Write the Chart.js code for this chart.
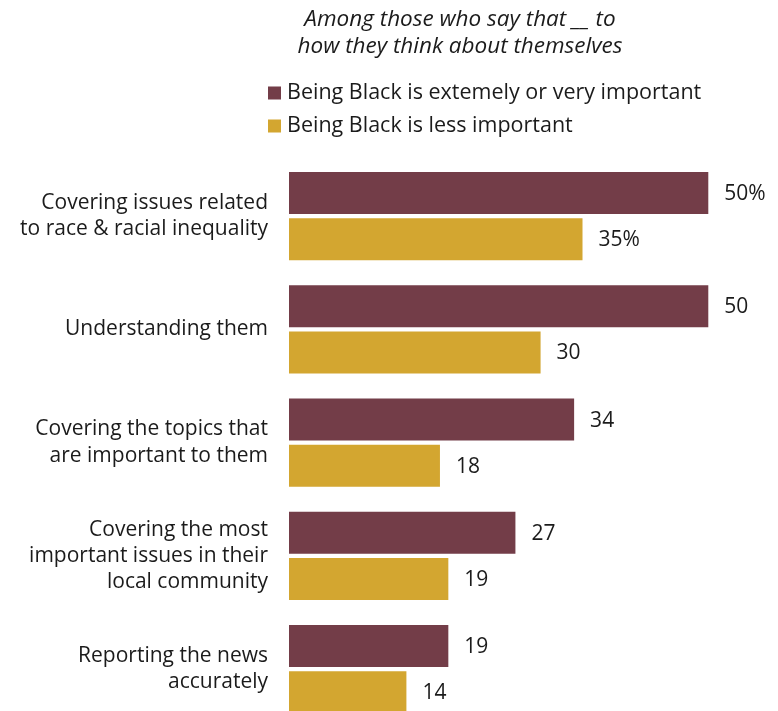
<!DOCTYPE html>
<html>
<head>
<meta charset="utf-8">
<script src="https://cdn.jsdelivr.net/npm/chart.js@4"></script>
<style>
  html, body { margin: 0; padding: 0; background: #fff; overflow: hidden; }
</style>
</head>
<body>
<canvas id="newsChart" width="778" height="773"></canvas>
<script>
// Categories and values
const categories = [
    ['Covering issues related', 'to race & racial inequality'],
    'Understanding them',
    ['Covering the topics that', 'are important to them'],
    ['Covering the most', 'important issues in their', 'local community'],
    ['Reporting the news', 'accurately']
];
const veryImportant = [50, 50, 34, 27, 19];
const lessImportant = [35, 30, 18, 19, 14];
const seriesNames = ['Being Black is extemely or very important', 'Being Black is less important'];
const headerLines = ['Among those who say that __ to', 'how they think about themselves'];

const FONT = '"Open Sans", "Liberation Sans", Arial, sans-serif';
const TEXT = '#1b1b1b';

// Subtitle and legend above the bars
const headerPlugin = {
    id: 'header',
    afterDraw(chart) {
        const ctx = chart.ctx;
        ctx.save();
        ctx.fillStyle = TEXT;
        ctx.textBaseline = 'middle';
        ctx.textAlign = 'center';
        ctx.font = 'italic 22.5px ' + FONT;
        ctx.fillText(headerLines[0], 460, 20);
        ctx.fillText(headerLines[1], 460, 47);

        ctx.textAlign = 'left';
        ctx.font = '21.5px ' + FONT;
        chart.data.datasets.forEach(function (ds, i) {
            const y = 93 + i * 33;
            ctx.fillStyle = ds.backgroundColor;
            ctx.fillRect(268, y - 6.5, 13, 13);
            ctx.fillStyle = TEXT;
            ctx.fillText(ds.label, 287, y);
        });
        ctx.restore();
    }
};

// Numbers at the end of each bar
const valueLabels = {
    id: 'valueLabels',
    afterDatasetsDraw(chart) {
        const ctx = chart.ctx;
        ctx.save();
        ctx.fillStyle = TEXT;
        ctx.font = '21px ' + FONT;
        ctx.textAlign = 'left';
        ctx.textBaseline = 'middle';
        chart.data.datasets.forEach(function (ds, i) {
            const meta = chart.getDatasetMeta(i);
            meta.data.forEach(function (bar, j) {
                let txt = String(ds.data[j]);
                if (j === 0) txt += '%';
                ctx.fillText(txt, bar.x + 16, bar.y + 1);
            });
        });
        ctx.restore();
    }
};

const ctx = document.getElementById('newsChart').getContext('2d');
const newsChart = new Chart(ctx, {
    type: 'bar',
    data: {
        labels: categories,
        datasets: [{
            label: seriesNames[0],
            data: veryImportant,
            backgroundColor: '#733d48',
            barPercentage: 0.913,
            categoryPercentage: 0.814
        }, {
            label: seriesNames[1],
            data: lessImportant,
            backgroundColor: '#d3a630',
            barPercentage: 0.913,
            categoryPercentage: 0.814
        }]
    },
    options: {
        indexAxis: 'y',
        responsive: false,
        animation: false,
        layout: {
            padding: { top: 159.5, bottom: 4, left: 0, right: 11 }
        },
        plugins: {
            legend: { display: false },
            tooltip: { enabled: false }
        },
        scales: {
            x: {
                display: false,
                min: 0,
                max: 57
            },
            y: {
                grid: { display: false, drawTicks: false },
                border: { display: false },
                ticks: {
                    color: TEXT,
                    padding: 21,
                    font: { family: FONT, size: 21, lineHeight: 1.25 }
                },
                afterFit(scale) {
                    scale.width = 289;
                }
            }
        }
    },
    plugins: [headerPlugin, valueLabels]
});
</script>
</body>
</html>
